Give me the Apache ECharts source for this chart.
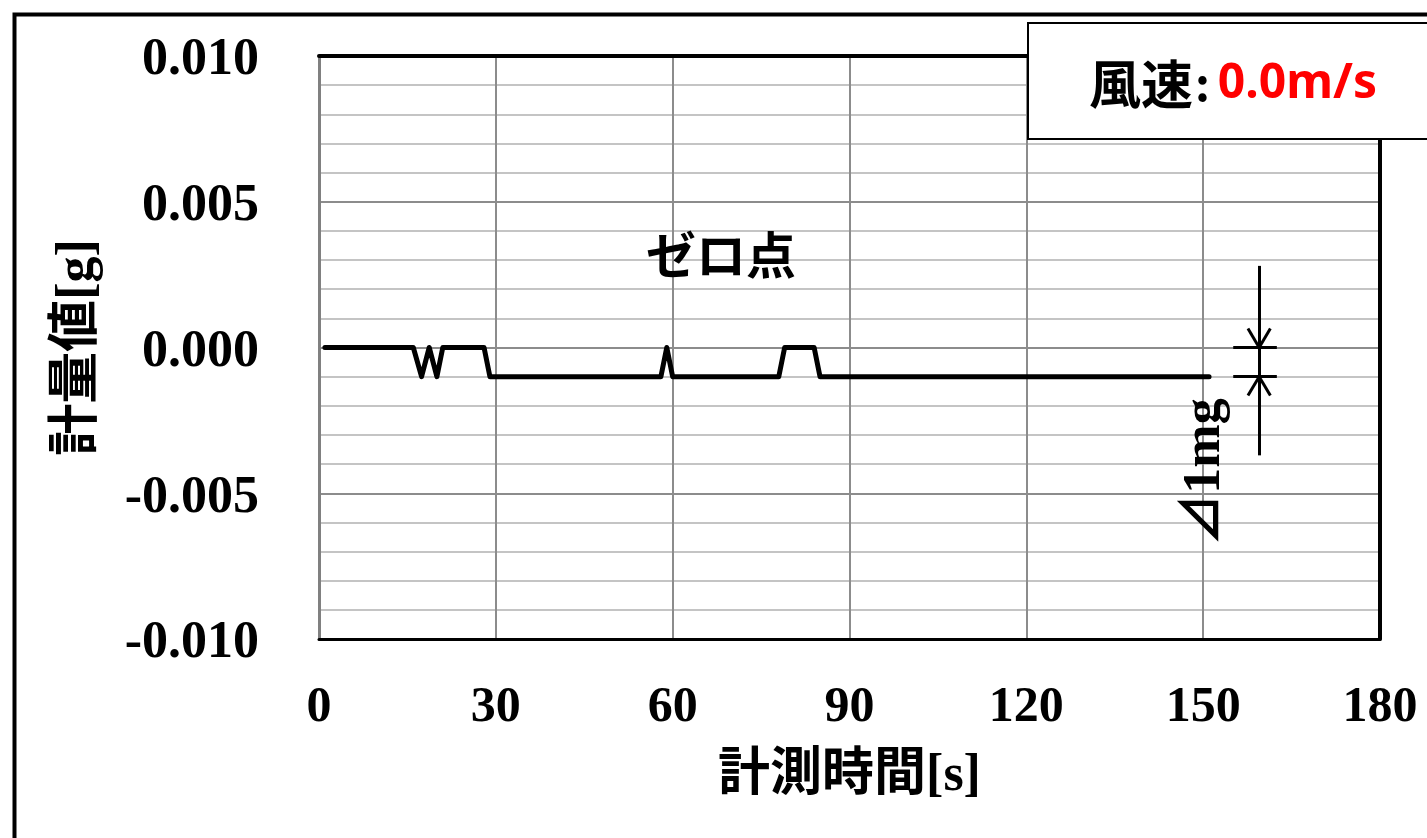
<!DOCTYPE html>
<html>
<head>
	<meta charset="utf-8"/>
	<title>ゼロ点</title>
	<style>
		* {
			margin: 0;
			padding: 0;
		}
		html, body {
			width: 1427px;
			height: 838px;
			background: #fff;
		}
		.main {
			width: 1427px;
			height: 838px;
		}
	</style>
</head>
<body>

	<div id="main" class="main"></div>

	<script src="https://cdn.jsdelivr.net/npm/echarts@6/dist/echarts.min.js"></script>
	<script>
		// 計測時間 [s] と 計量値 [g]
		var times = [1, 16, 17.4, 18.7, 20, 21, 28, 29, 58, 59, 60, 78, 79, 84, 85, 151];
		var values = [0, 0, -0.001, 0, -0.001, 0, 0, -0.001, -0.001, 0, -0.001, -0.001, 0, 0, -0.001, -0.001];

		var xTicks = [0, 30, 60, 90, 120, 150, 180];
		var yTicks = [-0.010, -0.005, 0.000, 0.005, 0.010];

		var windSpeed = '0.0m/s';
		var noteText = 'ゼロ点';
		var deltaText = '⊿1mg';

		var serif = '"Liberation Serif", "Noto Sans CJK JP", serif';
		var gothic = '"Noto Sans CJK JP", sans-serif';

		var data = times.map(function (t, i) {
			return [t, values[i]];
		});

		// ⊿1mg の寸法線 (データ座標)
		function seg(a, b) {
			return [{ coord: a }, { coord: b }];
		}
		var dimX = 159.5;
		var dimLines = [
			seg([dimX, 0.0028], [dimX, -0.0037]),
			seg([155.1, 0], [162.5, 0]),
			seg([155.1, -0.001], [162.5, -0.001]),
			seg([157.6, 0.00065], [dimX, 0]),
			seg([161.4, 0.00065], [dimX, 0]),
			seg([157.6, -0.00165], [dimX, -0.001]),
			seg([161.4, -0.00165], [dimX, -0.001])
		];

		var myChart = echarts.init(document.getElementById('main'));

		var option = {
			animation: false,
			backgroundColor: '#fff',
			grid: {
				left: 319,
				right: 47,
				top: 56,
				bottom: 199,
				show: true,
				borderColor: '#000',
				borderWidth: 0,
				backgroundColor: '#fff'
			},
			xAxis: [{
				type: 'value',
				min: xTicks[0],
				max: xTicks[xTicks.length - 1],
				interval: 30,
				name: '計測時間[s]',
				nameLocation: 'middle',
				nameGap: 112,
				nameTextStyle: {
					fontFamily: serif,
					fontWeight: 'bold',
					fontSize: 52,
					color: '#000'
				},
				axisLine: {
					show: true,
					onZero: false,
					lineStyle: { color: '#000', width: 3 }
				},
				axisTick: { show: false },
				axisLabel: {
					margin: 44,
					fontFamily: serif,
					fontWeight: 'bold',
					fontSize: 50,
					color: '#000'
				},
				splitLine: {
					show: true,
					lineStyle: { color: '#8c8c8c', width: 2 }
				}
			}, {
				type: 'value',
				position: 'top',
				min: xTicks[0],
				max: xTicks[xTicks.length - 1],
				interval: 30,
				axisLine: {
					show: true,
					onZero: false,
					lineStyle: { color: '#000', width: 4 }
				},
				axisTick: { show: false },
				axisLabel: { show: false },
				splitLine: { show: false }
			}],
			yAxis: [{
				type: 'value',
				min: yTicks[0],
				max: yTicks[yTicks.length - 1],
				interval: 0.005,
				name: '計量値[g]',
				nameLocation: 'middle',
				nameGap: 214,
				nameRotate: 90,
				nameTextStyle: {
					fontFamily: serif,
					fontWeight: 'bold',
					fontSize: 52,
					color: '#000'
				},
				axisLine: {
					show: true,
					onZero: false,
					lineStyle: { color: '#808080', width: 3 }
				},
				axisTick: { show: false },
				axisLabel: {
					margin: 60,
					color: '#000',
					formatter: function (v) {
						return '{n|' + v.toFixed(3) + '}';
					},
					rich: {
						n: {
							fontFamily: serif,
							fontWeight: 'bold',
							fontSize: 52,
							color: '#000',
							padding: [10, 0, 0, 0]
						}
					}
				},
				splitLine: {
					show: true,
					lineStyle: { color: '#8c8c8c', width: 2 }
				},
				minorTick: { show: false, splitNumber: 5 },
				minorSplitLine: {
					show: true,
					lineStyle: { color: '#c4c4c4', width: 2 }
				}
			}, {
				type: 'value',
				position: 'right',
				min: yTicks[0],
				max: yTicks[yTicks.length - 1],
				interval: 0.005,
				axisLine: {
					show: true,
					onZero: false,
					lineStyle: { color: '#000', width: 4 }
				},
				axisTick: { show: false },
				axisLabel: { show: false },
				splitLine: { show: false }
			}],
			series: [{
				type: 'line',
				data: data,
				symbol: 'none',
				silent: true,
				lineStyle: { color: '#000', width: 5, cap: 'round', join: 'round' },
				markLine: {
					silent: true,
					symbol: ['none', 'none'],
					label: { show: false },
					lineStyle: { color: '#000', width: 3, type: 'solid' },
					emphasis: { disabled: true },
					data: dimLines
				}
			}],
			graphic: [
				{
					type: 'rect',
					left: 12,
					top: 12,
					shape: { width: 1440, height: 850 },
					style: { fill: null, stroke: '#000', lineWidth: 4 },
					z: 100
				},
				{
					type: 'rect',
					left: 1027,
					top: 22,
					shape: { width: 420, height: 116 },
					style: { fill: '#fff', stroke: '#000', lineWidth: 2 },
					z: 101
				},
				{
					type: 'text',
					x: 1233,
					y: 84,
					z: 102,
					style: {
						text: '{k|風速}{c|:}{v|' + windSpeed + '}',
						align: 'center',
						verticalAlign: 'middle',
						rich: {
							k: { fontFamily: gothic, fontWeight: 'bold', fontSize: 52, fill: '#000' },
							c: { fontFamily: gothic, fontWeight: 'bold', fontSize: 46, fill: '#000', padding: [0, 8, 0, 2] },
							v: { fontFamily: '"Noto Sans", sans-serif', fontWeight: 'bold', fontSize: 48, fill: '#ff0000' }
						}
					}
				},
				{
					type: 'text',
					x: 721,
					y: 255,
					z: 102,
					style: {
						text: noteText,
						align: 'center',
						verticalAlign: 'middle',
						fontFamily: gothic,
						fontWeight: 'bold',
						fontSize: 50,
						fill: '#000'
					}
				},
				{
					type: 'text',
					x: 1206,
					y: 472,
					rotation: Math.PI / 2,
					z: 102,
					style: {
						text: deltaText,
						align: 'center',
						verticalAlign: 'middle',
						fontFamily: serif,
						fontWeight: 'bold',
						fontSize: 52,
						fill: '#000'
					}
				}
			]
		};

		myChart.setOption(option);
	</script>
</body>
</html>
